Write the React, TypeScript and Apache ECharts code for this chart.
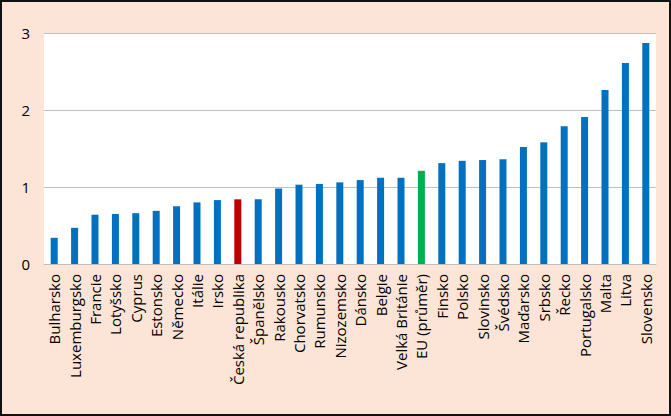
import React, { useEffect, useRef } from "react";
import * as echarts from "echarts";

const categories = [
  "Bulharsko", "Luxemburgsko", "Francie", "Lotyšsko", "Cyprus", "Estonsko", "Německo", "Itálie", "Irsko",
  "Česká republika", "Španělsko", "Rakousko", "Chorvatsko", "Rumunsko", "Nizozemsko", "Dánsko", "Belgie",
  "Velká Británie", "EU (průměr)", "Finsko", "Polsko", "Slovinsko", "Švédsko", "Maďarsko", "Srbsko",
  "Řecko", "Portugalsko", "Malta", "Litva", "Slovensko",
];
const values = [
  0.34, 0.47, 0.64, 0.65, 0.66, 0.69, 0.75, 0.80, 0.83,
  0.84, 0.84, 0.98, 1.03, 1.04, 1.06, 1.09, 1.12,
  1.12, 1.21, 1.31, 1.34, 1.35, 1.36, 1.52, 1.58,
  1.79, 1.91, 2.26, 2.61, 2.87,
];
const yTicks = [0, 1, 2, 3];

const BLUE = "#0070C0";
const RED = "#C00000";
const GREEN = "#00B050";

export default function App() {
  const ref = useRef<HTMLDivElement>(null);
  useEffect(() => {
    document.body.style.margin = "0";
    const chart = echarts.init(ref.current!, undefined, { renderer: "svg" });
    chart.setOption({
      animation: false,
      backgroundColor: "#FCE4D6",
      grid: { left: 44, right: 15, top: 33, bottom: 152, backgroundColor: "#FFFFFF", show: true, borderWidth: 0 },
      xAxis: {
        type: "category",
        data: categories,
        axisLine: { show: true, lineStyle: { color: "#BFBFBF", width: 1 } },
        axisTick: { show: false },
        axisLabel: {
          rotate: 90,
          interval: 0,
          margin: 10,
          fontFamily: "Open Sans",
          fontSize: 15,
          color: "#000000",
        },
      },
      yAxis: {
        type: "value",
        min: yTicks[0],
        max: yTicks[yTicks.length - 1],
        interval: 1,
        axisLine: { show: false },
        axisTick: { show: false },
        splitLine: { lineStyle: { color: "#BFBFBF", width: 1 } },
        axisLabel: { margin: 14, fontFamily: "Open Sans", fontSize: 15, color: "#000000" },
      },
      series: [
        {
          type: "bar",
          barWidth: 7,
          data: values.map((v, i) => ({
            value: v,
            itemStyle: {
              color: categories[i] === "Česká republika" ? RED : categories[i] === "EU (průměr)" ? GREEN : BLUE,
            },
          })),
        },
      ],
    });
    return () => chart.dispose();
  }, []);
  return (
    <div style={{ width: 671, height: 416, position: "relative" }}>
      <div ref={ref} style={{ width: 671, height: 416 }} />
      <div
        style={{
          position: "absolute",
          left: 0,
          top: 0,
          width: 671,
          height: 416,
          boxSizing: "border-box",
          border: "2px solid #111111",
          pointerEvents: "none",
        }}
      />
    </div>
  );
}
